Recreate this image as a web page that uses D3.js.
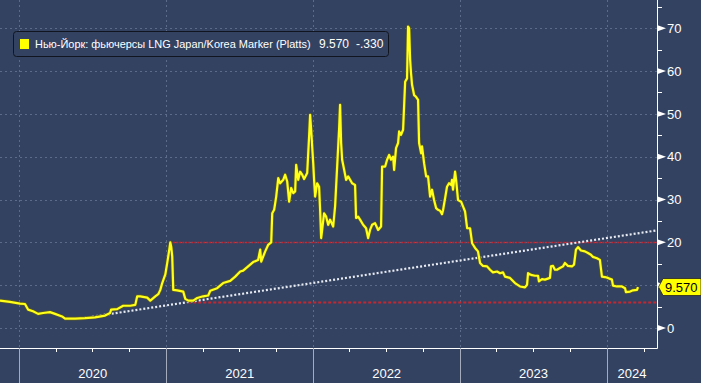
<!DOCTYPE html>
<html><head><meta charset="utf-8">
<script src="https://cdn.jsdelivr.net/npm/d3@7"></script>
<style>html,body{margin:0;padding:0;background:#344262;overflow:hidden}svg{display:block}</style>
</head><body><svg id="c" width="701" height="383"></svg>
<script>
// ---- data (dates as fractional years) ----
const dates = [2019.870,2019.938,2020.006,2020.040,2020.061,2020.095,2020.129,2020.163,2020.210,2020.244,
2020.292,2020.312,2020.380,2020.448,2020.516,2020.584,2020.618,2020.625,2020.666,2020.707,
2020.755,2020.789,2020.802,2020.823,2020.870,2020.891,2020.925,2020.945,2020.959,2020.972,
2020.993,2021.006,2021.020,2021.027,2021.033,2021.040,2021.047,2021.074,2021.115,2021.129,
2021.149,2021.183,2021.210,2021.251,2021.285,2021.299,2021.346,2021.387,2021.435,2021.469,
2021.503,2021.523,2021.557,2021.591,2021.625,2021.639,2021.646,2021.673,2021.693,2021.714,
2021.721,2021.734,2021.748,2021.762,2021.775,2021.796,2021.809,2021.823,2021.836,2021.850,
2021.864,2021.877,2021.884,2021.898,2021.911,2021.925,2021.938,2021.959,2021.972,2021.979,
2021.986,2022.000,2022.006,2022.013,2022.027,2022.040,2022.047,2022.054,2022.061,2022.074,
2022.088,2022.102,2022.115,2022.136,2022.149,2022.163,2022.177,2022.183,2022.190,2022.197,
2022.211,2022.224,2022.238,2022.265,2022.285,2022.292,2022.306,2022.319,2022.340,2022.360,
2022.374,2022.387,2022.401,2022.421,2022.442,2022.462,2022.469,2022.490,2022.503,2022.517,
2022.530,2022.544,2022.551,2022.564,2022.578,2022.585,2022.598,2022.612,2022.626,2022.639,
2022.646,2022.653,2022.660,2022.666,2022.673,2022.687,2022.700,2022.714,2022.721,2022.735,
2022.741,2022.755,2022.769,2022.782,2022.796,2022.809,2022.823,2022.837,2022.850,2022.864,
2022.877,2022.884,2022.898,2022.911,2022.925,2022.939,2022.945,2022.952,2022.966,2022.973,
2022.986,2023.007,2023.020,2023.034,2023.048,2023.068,2023.082,2023.102,2023.122,2023.136,
2023.156,2023.184,2023.204,2023.224,2023.252,2023.272,2023.292,2023.306,2023.340,2023.374,
2023.408,2023.442,2023.456,2023.463,2023.483,2023.510,2023.531,2023.537,2023.558,2023.578,
2023.612,2023.619,2023.633,2023.646,2023.660,2023.680,2023.701,2023.714,2023.735,2023.762,
2023.776,2023.789,2023.803,2023.823,2023.850,2023.871,2023.891,2023.905,2023.932,2023.952,
2023.966,2023.986,2024.007,2024.034,2024.041,2024.068,2024.102,2024.123,2024.129,2024.157,
2024.177,2024.204,2024.211];
const values = [6.4,6.1,5.7,5.6,4.3,3.9,3.3,3.5,3.7,3.3,
2.7,2.2,2.2,2.3,2.5,2.9,3.5,4.3,4.4,5.2,
5.2,5.4,7.4,7.4,7.1,6.4,7.4,7.9,8.9,10.5,
12.5,15.2,18.3,20.0,19.0,16.7,8.9,8.8,8.5,6.8,
6.4,6.4,7.0,7.4,7.6,8.7,9.3,10.5,11.0,12.0,
13.2,13.4,14.4,15.4,15.9,18.3,15.5,17.9,19.4,20.0,
26.8,27.6,30.7,35.0,33.8,34.6,35.8,34.2,29.5,32.7,
31.5,31.9,38.1,34.6,36.5,35.8,34.8,36.2,44.7,49.8,
46.3,38.5,34.6,30.7,33.8,33.0,27.6,21.0,22.9,26.8,
26.0,24.1,25.3,23.7,28.4,37.7,47.0,52.1,43.2,39.3,
36.9,34.6,35.4,33.8,33.4,25.7,26.0,25.3,24.1,23.3,
21.0,22.9,24.1,24.5,22.9,23.7,37.7,37.7,39.3,40.4,
39.3,40.0,36.9,42.0,43.2,45.9,45.1,46.3,57.5,58.3,
70.4,70.0,62.6,59.5,56.8,54.4,54.0,53.3,43.2,40.8,
42.4,38.5,35.4,35.4,30.7,32.3,29.9,28.0,27.6,27.4,
26.6,27.5,30.3,33.0,33.8,33.4,34.6,32.3,36.5,34.6,
29.9,29.5,28.4,27.2,23.3,23.3,19.8,18.7,17.9,15.2,
14.5,14.4,13.6,13.0,13.2,12.8,13.0,12.0,11.7,10.5,
9.7,9.5,10.1,12.8,12.4,12.2,12.2,10.9,11.4,11.3,
11.7,14.4,14.5,13.6,13.6,14.0,14.4,15.2,14.5,14.4,
14.8,18.3,18.9,18.1,17.9,17.5,17.1,16.6,16.3,15.9,
12.0,11.9,11.7,11.3,9.9,9.7,9.7,9.3,8.4,8.5,
8.8,8.9,9.57];
const trendDates = [2020.414, 2024.34];
const trendValues = [2.2, 22.8];
const levelValues = [20, 6];
const levelStarts = [2021.027, 2021.149];
const yTicks = [0, 10, 20, 30, 40, 50, 60, 70];
const yMinorTicks = [5, 15, 25, 35, 45, 55, 65, 75];
const yearLabels = ["2020", "2021", "2022", "2023", "2024"];
const legendLabel = "Нью-Йорк: фьючерсы LNG Japan/Korea Marker (Platts)";
const lastLabel = "9.570";
const changeLabel = "-.330";
const domainYears = [2019.87, 2024.34];
const domainValues = [-4.67, 76.6];

// ---- helpers ----
function yd(y){const Y=Math.floor(y);const s=Date.UTC(Y,0,1),e=Date.UTC(Y+1,0,1);return new Date(s+(y-Y)*(e-s));}

const W=701,H=383,R=657,B=348;
const svg=d3.select("#c");
const x=d3.scaleUtc().domain(domainYears.map(yd)).range([0,R]);
const y=d3.scaleLinear().domain(domainValues).range([B,0]);
const BG="#344262", GRID="#5d6b8a";
const font="'Liberation Sans', Arial, sans-serif";

svg.append("rect").attr("width",W).attr("height",H).attr("fill",BG);

// horizontal grid
svg.append("g").selectAll("line").data(yTicks).join("line")
  .attr("x1",0).attr("x2",R).attr("y1",d=>Math.round(y(d))+0.5).attr("y2",d=>Math.round(y(d))+0.5)
  .attr("stroke",GRID).attr("stroke-dasharray","2,3");
// vertical grid at year starts
const yearStarts=yearLabels.map(s=>new Date(Date.UTC(+s,0,1)));
svg.append("g").selectAll("line").data(yearStarts).join("line")
  .attr("x1",d=>Math.round(x(d))+0.5).attr("x2",d=>Math.round(x(d))+0.5).attr("y1",0).attr("y2",B)
  .attr("stroke",GRID).attr("stroke-dasharray","2,3");

// red level lines
svg.append("g").selectAll("line").data(levelValues).join("line")
  .attr("x1",(d,i)=>x(yd(levelStarts[i]))).attr("x2",R)
  .attr("y1",d=>Math.round(y(d))+0.5).attr("y2",d=>Math.round(y(d))+0.5)
  .attr("stroke","#c4262f").attr("stroke-width",(d,i)=>i===0?1.5:2)
  .attr("stroke-dasharray",(d,i)=>i===0?"2,1":"3,2");

// trend line
svg.append("path").datum(trendDates.map((d,i)=>[d,trendValues[i]]))
  .attr("d",d3.line().x(d=>x(yd(d[0]))).y(d=>y(d[1])))
  .attr("stroke","#e8ecf2").attr("stroke-width",2.2).attr("stroke-dasharray","2,2").attr("fill","none");

// price line
const pts=dates.map((d,i)=>[yd(d),values[i]]);
const line=d3.line().x(d=>x(d[0])).y(d=>y(d[1]));
svg.append("path").datum(pts).attr("d",line).attr("fill","none")
  .attr("stroke","#5a5a22").attr("stroke-width",3.6).attr("stroke-linejoin","round");
svg.append("path").datum(pts).attr("d",line).attr("fill","none")
  .attr("stroke","#ffff1a").attr("stroke-width",2.2).attr("stroke-linejoin","round");

// axes lines
svg.append("line").attr("x1",R+0.5).attr("x2",R+0.5).attr("y1",0).attr("y2",B+0.5).attr("stroke","#fff");
svg.append("line").attr("x1",0).attr("x2",R+0.5).attr("y1",B+0.5).attr("y2",B+0.5).attr("stroke","#fff");

// last price tag position (labels hidden under it)
const ly=y(values[values.length-1]);

// y ticks
svg.append("g").selectAll("path").data(yTicks).join("path")
  .attr("d",d=>{const yy=y(d);return `M${R},${yy-3.2}L${R+9},${yy}L${R},${yy+3.2}Z`;}).attr("fill","#fff");
svg.append("g").selectAll("line").data(yMinorTicks).join("line")
  .attr("x1",R).attr("x2",R+5).attr("y1",d=>Math.round(y(d))+0.5).attr("y2",d=>Math.round(y(d))+0.5).attr("stroke","#fff");
svg.append("g").selectAll("text").data(yTicks.filter(d=>Math.abs(y(d)-ly)>14)).join("text")
  .attr("x",R+10).attr("y",d=>y(d)).attr("dy","0.36em").text(d=>d)
  .attr("fill","#fff").attr("font-family",font).attr("font-size",13);

// x ticks: quarterly
const qt=d3.utcMonth.every(3).range(x.domain()[0],x.domain()[1]);
svg.append("g").selectAll("line").data(qt.filter(d=>d.getUTCMonth()!==0)).join("line")
  .attr("x1",d=>Math.round(x(d))+0.5).attr("x2",d=>Math.round(x(d))+0.5).attr("y1",B).attr("y2",B+4).attr("stroke","#fff");
svg.append("g").selectAll("line").data(yearStarts).join("line")
  .attr("x1",d=>Math.round(x(d))+0.5).attr("x2",d=>Math.round(x(d))+0.5).attr("y1",B).attr("y2",H).attr("stroke","#a3abbd");
svg.append("g").selectAll("text").data(yearLabels).join("text")
  .attr("x",(s,i)=>{const a=Math.max(x(yearStarts[i]),0);const b=Math.min(x(new Date(Date.UTC(+s+1,0,1))),R);return (a+b)/2;})
  .attr("y",373).attr("dy","0.36em").attr("text-anchor","middle").text(d=>d)
  .attr("fill","#fff").attr("font-family",font).attr("font-size",13);

// last price tag
svg.append("path").attr("d",`M${R+1.5},${ly}L${R+6},${ly-8.5}L${W},${ly-8.5}L${W},${ly+8.5}L${R+6},${ly+8.5}Z`)
  .attr("fill","#ffff00").attr("stroke","#222").attr("stroke-width",0.8);
svg.append("text").attr("x",R+8).attr("y",ly).attr("dy","0.36em").text(lastLabel)
  .attr("fill","#000").attr("font-family",font).attr("font-size",13);

// legend
const lg=svg.append("g");
lg.append("rect").attr("x",13.5).attr("y",31.5).attr("width",375).attr("height",25).attr("rx",3)
  .attr("fill",BG).attr("stroke","#10151f").attr("stroke-width",1);
lg.append("rect").attr("x",20).attr("y",39).attr("width",9).attr("height",10).attr("fill","#ffff00");
const t1=lg.append("text").attr("x",35).attr("y",44).attr("dy","0.36em").text(legendLabel)
  .attr("fill","#fff").attr("font-family",font).attr("font-size",12);
const w1=t1.node().getComputedTextLength();
if(w1>0) t1.attr("font-size",Math.min(12.5,12*276/w1));
lg.append("text").attr("x",319).attr("y",44).attr("dy","0.36em").text(lastLabel)
  .attr("fill","#fff").attr("font-family",font).attr("font-size",12);
lg.append("text").attr("x",356).attr("y",44).attr("dy","0.36em").text(changeLabel)
  .attr("fill","#fff").attr("font-family",font).attr("font-size",12);
</script></body></html>
